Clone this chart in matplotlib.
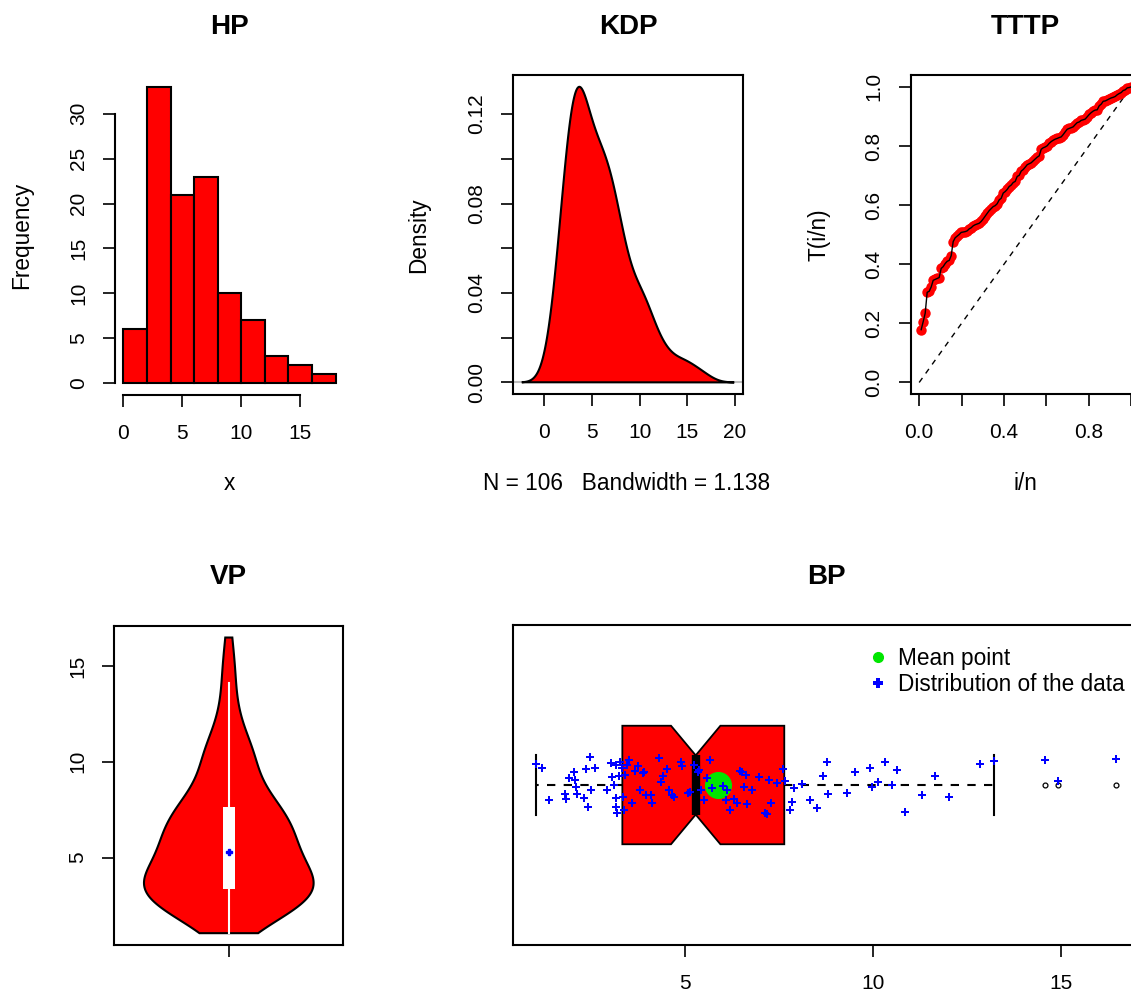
import numpy as np
import matplotlib
matplotlib.use("Agg")
import matplotlib.pyplot as plt
from matplotlib.lines import Line2D
from matplotlib.patches import Rectangle

plt.rcParams['font.family'] = ['Liberation Sans', 'DejaVu Sans']

# ---------------- data (sorted sample, n = 106), grouped by histogram bin ----------------
bin_0_2 = [1.05, 1.21, 1.38, 1.81, 1.83, 1.92]
bin_2_4 = [2.06, 2.08, 2.10, 2.12, 2.32, 2.36, 2.43, 2.48, 2.50, 2.61,
           2.94, 3.03, 3.07, 3.11, 3.16, 3.17, 3.18, 3.20, 3.25, 3.28,
           3.33, 3.36, 3.38, 3.40, 3.45, 3.52, 3.60, 3.68, 3.76, 3.82,
           3.88, 3.91, 3.97]
bin_4_6 = [4.09, 4.14, 4.31, 4.36, 4.43, 4.53, 4.58, 4.67, 4.71, 4.89,
           4.93, 5.09, 5.15, 5.24, 5.34, 5.38, 5.42, 5.50, 5.58, 5.66,
           5.72]
bin_6_8 = [6.02, 6.09, 6.13, 6.19, 6.31, 6.40, 6.47, 6.53, 6.57, 6.62,
           6.66, 6.80, 6.97, 7.13, 7.19, 7.24, 7.30, 7.46, 7.61, 7.66,
           7.79, 7.84, 7.90]
bin_8_10 = [8.11, 8.33, 8.52, 8.68, 8.79, 8.82, 9.32, 9.54, 9.94, 9.99]
bin_10_12 = [10.15, 10.34, 10.52, 10.65, 10.85, 11.30, 11.67]
bin_tail = [12.03, 12.87, 13.23, 14.59, 14.93, 16.49]

# vertical jitter of the strip-chart points (same order as the data)
jit_0_2 = [0.071, 0.057, -0.051, -0.030, -0.047, 0.024]
jit_2_4 = [0.044, 0.017, -0.007, -0.030, -0.044, 0.054, -0.074, 0.095, -0.017, 0.057,
           -0.017, 0.074, 0.027, 0.000, 0.068, -0.044, -0.074, -0.095, 0.030, 0.078,
           0.057, -0.041, -0.084, 0.034, 0.068, 0.084, -0.061, 0.047, 0.064, -0.017,
           0.041, 0.044, -0.034]
jit_4_6 = [-0.034, -0.061, 0.091, 0.010, 0.030, 0.054, -0.017, -0.034, -0.041, 0.078,
           0.064, -0.027, -0.024, 0.068, 0.044, 0.051, -0.017, -0.051, 0.024, 0.084,
           -0.010]
jit_6_8 = [-0.003, -0.051, -0.017, -0.084, -0.047, -0.061, 0.047, 0.044, -0.007, 0.034,
           -0.064, -0.017, 0.027, -0.095, -0.098, 0.017, -0.061, 0.007, 0.054, 0.014,
           -0.084, -0.057, -0.010]
jit_8_10 = [0.003, -0.051, -0.078, 0.030, 0.078, -0.030, -0.027, 0.044, 0.057, -0.007]
jit_10_12 = [0.010, 0.078, 0.000, 0.051, -0.091, -0.034, 0.030]
jit_tail = [-0.041, 0.071, 0.081, 0.084, 0.014, 0.088]

hist_edges = [0, 2, 4, 6, 8, 10, 12, 14, 16, 18]
bandwidth = 1.138
titles = ["HP", "KDP", "TTTP", "VP", "BP"]
hp_xticks = [0, 5, 10, 15]
hp_yticks = [0, 5, 10, 15, 20, 25, 30]
kdp_xticks = [0, 5, 10, 15, 20]
kdp_yticks = [0.00, 0.02, 0.04, 0.06, 0.08, 0.10, 0.12]
kdp_ylabels = ["0.00", "", "0.04", "", "0.08", "", "0.12"]
ttt_ticks = [0.0, 0.2, 0.4, 0.6, 0.8, 1.0]
ttt_xlabels = ["0.0", "", "0.4", "", "0.8", ""]
ttt_ylabels = ["0.0", "0.2", "0.4", "0.6", "0.8", "1.0"]
vp_yticks = [5, 10, 15]
bp_xticks = [5, 10, 15]
legend_labels = ["Mean point", "Distribution of the data"]

data = np.array(bin_0_2 + bin_2_4 + bin_4_6 + bin_6_8 + bin_8_10 + bin_10_12 + bin_tail)
jitter = np.array(jit_0_2 + jit_2_4 + jit_4_6 + jit_6_8 + jit_8_10 + jit_10_12 + jit_tail)
n = len(data)

# ---------------- figure & layout ----------------
W, H = 1131, 993
fig = plt.figure(figsize=(W / 100, H / 100), dpi=100)

def add_ax(l, t, r, b):
    return fig.add_axes([l / W, 1 - b / H, (r - l) / W, (b - t) / H])

def rlim(lo, hi):
    d = (hi - lo) * 0.04
    return lo - d, hi + d

TICK_FS = 15
LAB_FS = 16.3
TITLE_FS = 20
LW = 1.5

def style(ax, box=True):
    for s in ax.spines.values():
        s.set_linewidth(LW)
        s.set_visible(box)
    ax.tick_params(axis='both', direction='out', length=8.5, width=1.2,
                   labelsize=TICK_FS, colors='black')
    ax.tick_params(axis='x', pad=12.5)
    ax.tick_params(axis='y', pad=11, labelrotation=90)

def fix_ylabels(ax):
    for lb in ax.get_yticklabels():
        lb.set_va('center')

def ftext(x, y, s, **kw):
    fig.text(x / W, 1 - y / H, s, ha='center', va='center', **kw)

def gauss_kde(points, grid, bw):
    z = (grid[:, None] - points[None, :]) / bw
    return np.exp(-0.5 * z ** 2).sum(axis=1) / (len(points) * bw * np.sqrt(2 * np.pi))

# ---------------- HP: histogram ----------------
ax = add_ax(115, 75, 344, 395)
counts, edges = np.histogram(data, bins=hist_edges)
ax.bar(edges[:-1], counts, width=np.diff(edges), align='edge',
       color='red', edgecolor='black', linewidth=LW)
ax.set_xlim(*rlim(edges[0], edges[-1]))
ax.set_ylim(*rlim(0, counts.max()))
style(ax, box=False)
ax.spines['left'].set_visible(True)
ax.spines['bottom'].set_visible(True)
ax.spines['left'].set_bounds(hp_yticks[0], hp_yticks[-1])
ax.spines['bottom'].set_bounds(hp_xticks[0], hp_xticks[-1])
ax.set_xticks(hp_xticks)
ax.set_yticks(hp_yticks)
fix_ylabels(ax)

# ---------------- KDP: kernel density ----------------
ax = add_ax(513.3, 75, 742.7, 394.3)
grid = np.linspace(data.min() - 3 * bandwidth, data.max() + 3 * bandwidth, 512)
dens = gauss_kde(data, grid, bandwidth)
ax.axhline(0, color='#bebebe', lw=1.5, zorder=1)
ax.fill(grid, dens, facecolor='red', edgecolor='black', linewidth=LW, zorder=2)
ax.set_xlim(*rlim(grid[0], grid[-1]))
ax.set_ylim(*rlim(0, dens.max()))
style(ax)
ax.set_xticks(kdp_xticks)
ax.set_yticks(kdp_yticks)
ax.set_yticklabels(kdp_ylabels)
fix_ylabels(ax)

# ---------------- TTTP: total time on test ----------------
ax = add_ax(910.7, 75, 1139.7, 394.3)
s = np.sort(data)
i = np.arange(1, n + 1)
T = (np.cumsum(s) + (n - i) * s) / s.sum()
u = i / n
ax.plot(u, T, 'o', color='red', markersize=7.5, markeredgewidth=0, zorder=2)
ax.plot(u, T, '-', color='black', lw=1.0, zorder=3)
ax.plot([0, 1], [0, 1], color='black', lw=1.0, ls=(0, (4, 4)), zorder=1)
ax.set_xlim(*rlim(0, 1))
ax.set_ylim(*rlim(0, 1))
style(ax)
ax.set_xticks(ttt_ticks)
ax.set_xticklabels(ttt_xlabels)
ax.set_yticks(ttt_ticks)
ax.set_yticklabels(ttt_ylabels)
fix_ylabels(ax)

# ---------------- VP: violin ----------------
ax = add_ax(114.3, 625.7, 343.3, 945)
vg = np.linspace(data.min(), data.max(), 200)
vd = gauss_kde(data, vg, bandwidth)
half = 0.4 * vd / vd.max()
ax.fill(np.concatenate([1 - half, (1 + half)[::-1]]), np.concatenate([vg, vg[::-1]]),
        facecolor='red', edgecolor='black', linewidth=LW, zorder=2)
q1, med, q3 = np.percentile(data, [25, 50, 75])
upper = min(q3 + 1.5 * (q3 - q1), data.max())
lower = max(q1 - 1.5 * (q3 - q1), data.min())
ax.plot([1, 1], [lower, upper], color='white', lw=1.5, zorder=3)
ax.add_patch(Rectangle((1 - 0.027, q1), 0.054, q3 - q1, facecolor='white',
                       edgecolor='none', zorder=4))
ax.plot([1], [med], marker='P', color='blue', markersize=4, zorder=5)
ax.set_xlim(*rlim(0.5, 1.5))
ax.set_ylim(*rlim(data.min(), data.max()))
style(ax)
ax.set_xticks([1])
ax.set_xticklabels([""])
ax.set_yticks(vp_yticks)
fix_ylabels(ax)

# ---------------- BP: notched box plot + strip chart ----------------
ax = add_ax(513.2, 625, 1139.7, 945)
ax.boxplot(data, orientation='horizontal', notch=True, patch_artist=True,
           widths=0.4, positions=[1], capwidths=0.2, whis=1.5,
           boxprops=dict(facecolor='red', edgecolor='black', linewidth=1.3),
           medianprops=dict(color='black', linewidth=6),
           whiskerprops=dict(color='black', linewidth=1.5, linestyle=(0, (4, 4))),
           capprops=dict(color='black', linewidth=1.5),
           flierprops=dict(marker='o', markerfacecolor='none', markeredgecolor='black',
                           markersize=3.5, markeredgewidth=0.9))
ax.plot([data.mean()], [1], 'o', color='#00e600', markersize=18.5, zorder=5)
ax.plot(data, 1 + jitter, 'P', color='blue', markersize=5.5, markeredgewidth=0,
        linestyle='none', zorder=6)
ax.set_xlim(*rlim(data.min(), data.max()))
ax.set_ylim(*rlim(0.5, 1.5))
style(ax)
ax.set_xticks(bp_xticks)
ax.set_xticklabels([str(t) for t in bp_xticks])
ax.set_yticks([])
handles = [Line2D([], [], marker='o', color='#00e600', linestyle='none', markersize=7),
           Line2D([], [], marker='P', color='blue', linestyle='none', markersize=6.5,
                  markeredgewidth=0)]
fig.legend(handles, legend_labels, loc='upper left',
           bbox_to_anchor=(867 / W, 1 - 647 / H), bbox_transform=fig.transFigure,
           frameon=False, fontsize=LAB_FS, handlelength=1.0, handletextpad=0.35,
           labelspacing=0.12, borderpad=0, borderaxespad=0)

# ---------------- titles & axis labels ----------------
ftext(229.5, 27, titles[0], fontsize=TITLE_FS, fontweight='bold')
ftext(628, 27, titles[1], fontsize=TITLE_FS, fontweight='bold')
ftext(1025, 27, titles[2], fontsize=TITLE_FS, fontweight='bold')
ftext(228.8, 577, titles[3], fontsize=TITLE_FS, fontweight='bold')
ftext(826.5, 577, titles[4], fontsize=TITLE_FS, fontweight='bold')

ftext(229.5, 484, "x", fontsize=LAB_FS)
ftext(627, 484, "N = %d   Bandwidth = %.3f" % (n, bandwidth), fontsize=LAB_FS)
ftext(1025, 484, "i/n", fontsize=LAB_FS)
ftext(22, 235, "Frequency", fontsize=LAB_FS, rotation=90)
ftext(419, 235, "Density", fontsize=LAB_FS, rotation=90)
ftext(819, 235, "T(i/n)", fontsize=LAB_FS, rotation=90)

fig.savefig("out.png", dpi=100)
